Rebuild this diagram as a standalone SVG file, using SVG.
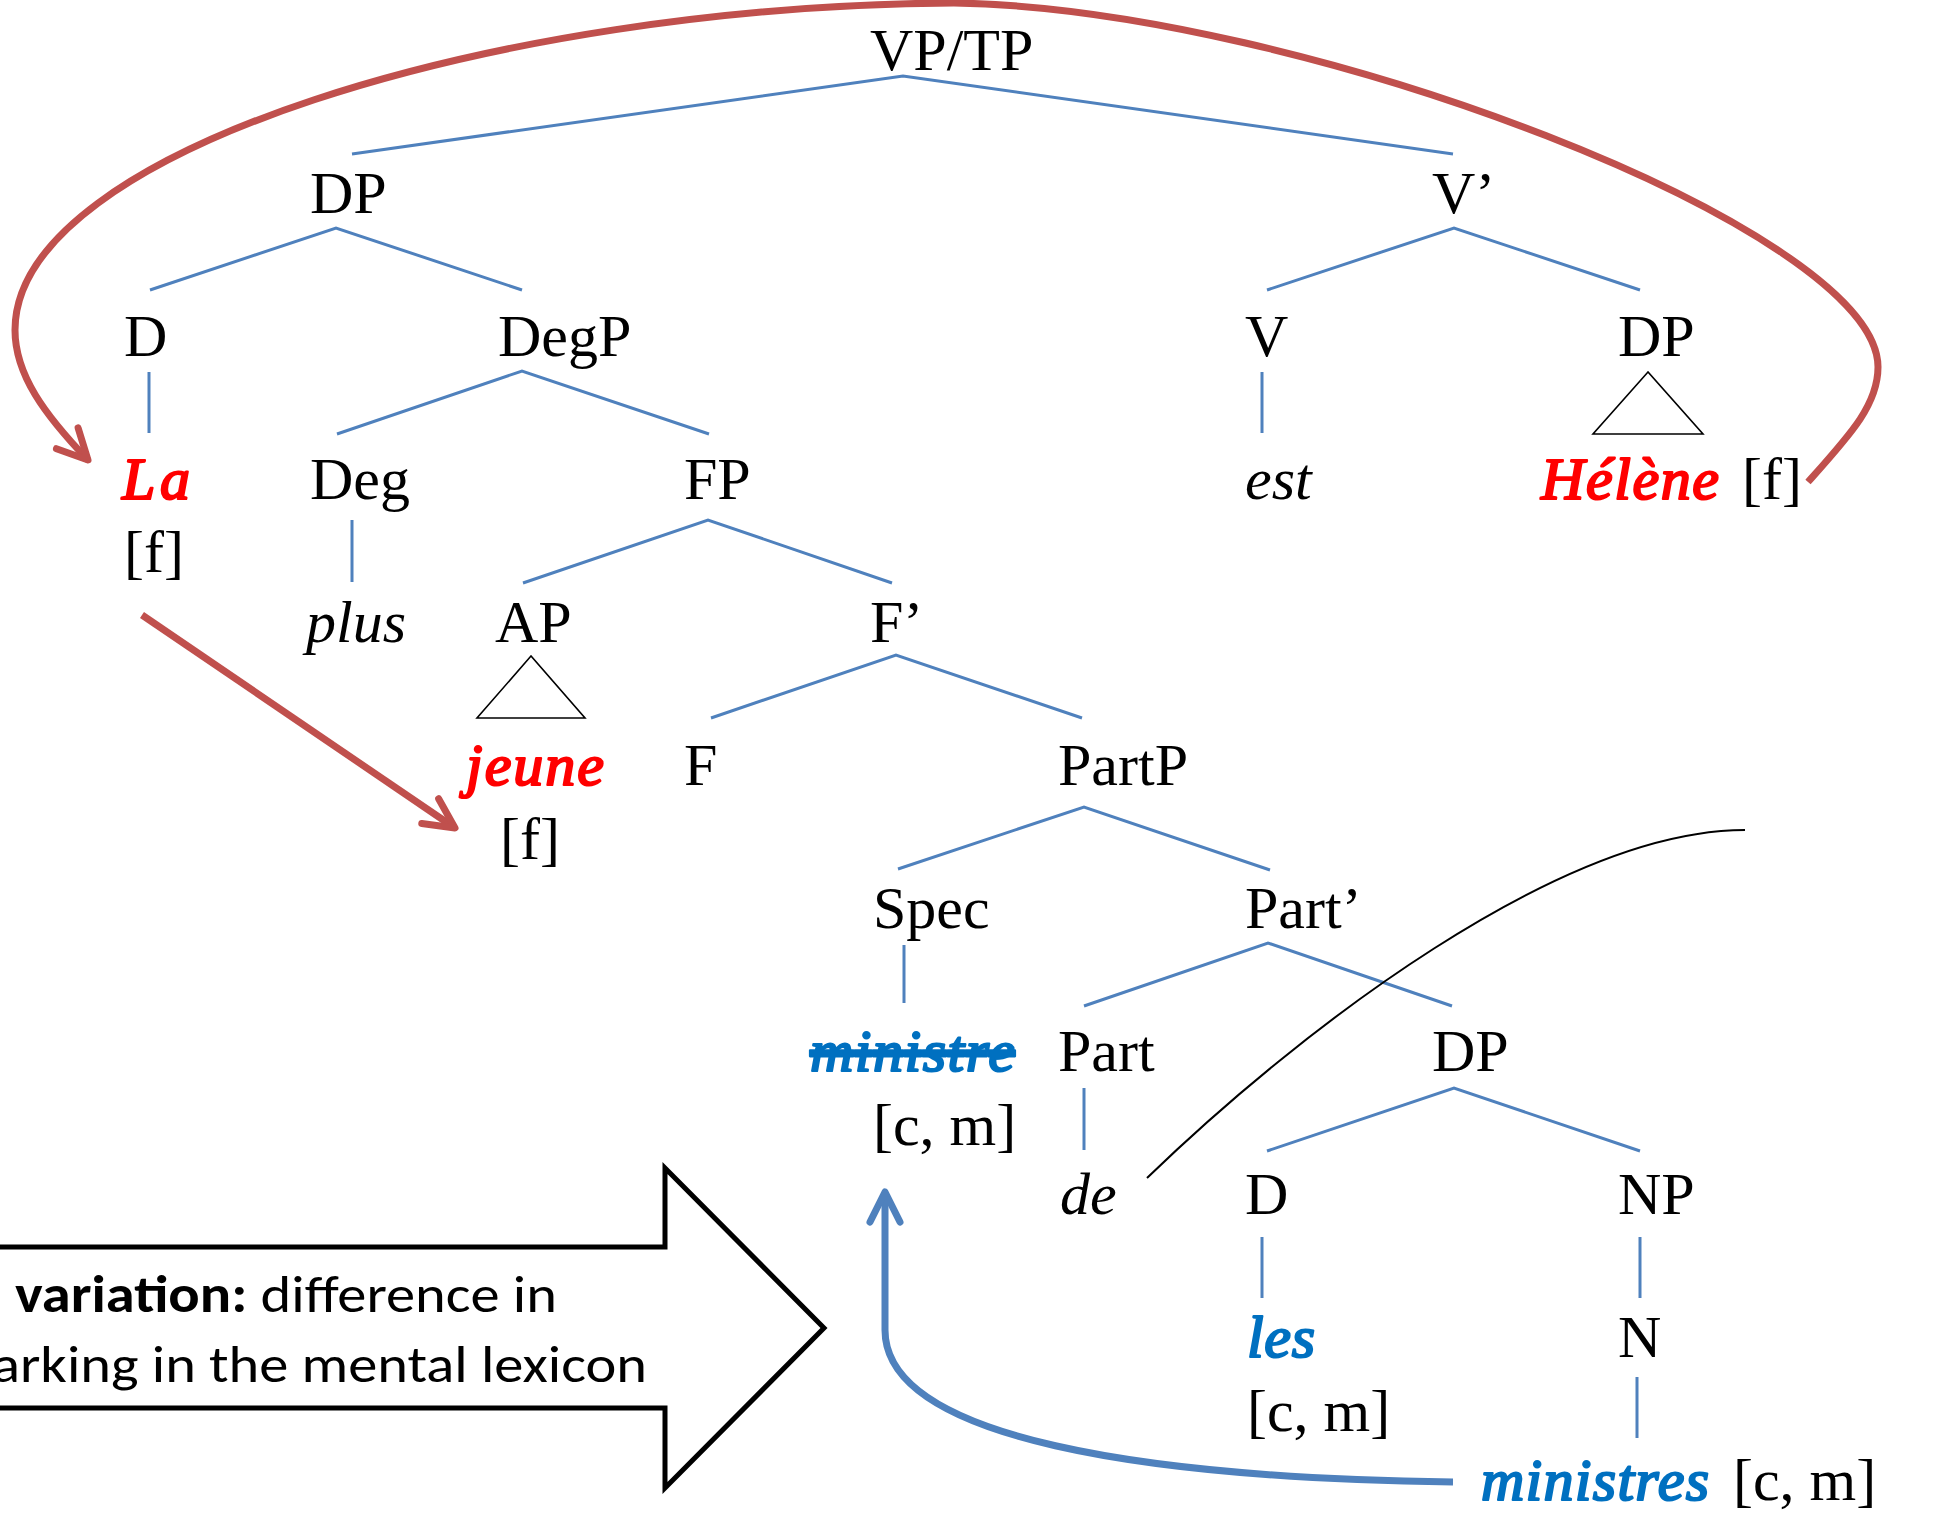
<svg xmlns="http://www.w3.org/2000/svg" width="1942" height="1521" viewBox="0 0 1942 1521">
<style>
.t{font-family:"Liberation Serif","Times New Roman",serif;font-size:60px;fill:#000}
.i{font-style:italic}
.bi{font-style:italic;stroke-width:2.2;stroke-linejoin:round}
.red{fill:#FF0000;stroke:#FF0000}
.blue{fill:#0070C0;stroke:#0070C0}
.br{stroke:#4F81BD;stroke-width:3;fill:none}
.tri{stroke:#000;stroke-width:1.6;fill:none}
.sans{font-family:Carlito,Lato,"Open Sans",sans-serif;font-size:52px;fill:#000}
</style>
<defs>
<marker id="arR" markerUnits="userSpaceOnUse" markerWidth="80" markerHeight="80" viewBox="-40 -40 80 80" refX="0" refY="0" orient="auto" overflow="visible">
<path d="M-30,-15 L0,0 L-30,15" fill="none" stroke="#C0504D" stroke-width="7" stroke-linecap="round" stroke-linejoin="round"/>
</marker>
<marker id="arB" markerUnits="userSpaceOnUse" markerWidth="80" markerHeight="80" viewBox="-40 -40 80 80" refX="0" refY="0" orient="auto" overflow="visible">
<path d="M-30,-15 L0,0 L-30,15" fill="none" stroke="#4F81BD" stroke-width="7" stroke-linecap="round" stroke-linejoin="round"/>
</marker>
</defs>

<g id="connectors">
<path class="br" d="M352,154 L903,76 L1453,154"/>
<path class="br" d="M150,290 L336,228 L522,290"/>
<path class="br" d="M1267,290 L1454,228 L1640,290"/>
<path class="br" d="M149,372 V433"/>
<path class="br" d="M337,434 L522,371 L709,434"/>
<path class="br" d="M1262,372 V433"/>
<path class="tri" d="M1648,372 L1593,434 L1703,434 Z"/>
<path class="br" d="M352,520 V582"/>
<path class="br" d="M523,583 L708,520 L892,583"/>
<path class="tri" d="M531,656 L477,718 L585,718 Z"/>
<path class="br" d="M711,718 L896,655 L1082,718"/>
<path class="br" d="M898,869 L1084,807 L1270,870"/>
<path class="br" d="M904,945 V1003"/>
<path class="br" d="M1084,1006 L1268,943 L1452,1006"/>
<path class="br" d="M1084,1088 V1150"/>
<path class="br" d="M1267,1151 L1454,1088 L1640,1151"/>
<path class="br" d="M1262,1237 V1298"/>
<path class="br" d="M1640,1237 V1298"/>
<path class="br" d="M1637,1377 V1438"/>
<path d="M1147,1178 C1300,1030 1560,830 1745,830" fill="none" stroke="#000" stroke-width="2"/>
<path d="M1808,482 C1850,435 1878,405 1878,367 C1878,230 1300,8 954,3 C500,5 15,150 15,330 C15,375 45,415 88,460" fill="none" stroke="#C0504D" stroke-width="7" marker-end="url(#arR)"/>
<path d="M142,615 L455,828" fill="none" stroke="#C0504D" stroke-width="7" marker-end="url(#arR)"/>
<path d="M1453,1482 C1150,1478 885,1440 885,1330 L885,1192" fill="none" stroke="#4F81BD" stroke-width="7" marker-end="url(#arB)"/>
</g>

<g id="lexicon-arrow">
<path d="M-10,1247 L665,1247 L665,1168 L824,1328 L665,1488 L665,1408 L-10,1408" fill="#fff" stroke="#000" stroke-width="5" stroke-linejoin="miter"/>
<text class="sans" x="15" y="1312" textLength="542" lengthAdjust="spacingAndGlyphs"><tspan font-weight="bold">variation:</tspan> difference in</text>
<text class="sans" x="-8" y="1382" textLength="655" lengthAdjust="spacingAndGlyphs">arking in the mental lexicon</text>
</g>

<g id="n-vptp"><text class="t" x="870" y="70">VP/TP</text></g>
<g id="n-dp1"><text class="t" x="310" y="213">DP</text></g>
<g id="n-vbar"><text class="t" x="1432" y="213">V’</text></g>
<g id="n-d1"><text class="t" x="124" y="356">D</text></g>
<g id="n-degp"><text class="t" x="498" y="356">DegP</text></g>
<g id="n-v"><text class="t" x="1245" y="356">V</text></g>
<g id="n-dp2"><text class="t" x="1618" y="356">DP</text></g>
<g id="n-la"><text class="t bi red" x="122" y="499" textLength="68">La</text><text class="t" x="124" y="572">[f]</text></g>
<g id="n-deg"><text class="t" x="310" y="499">Deg</text></g>
<g id="n-fp"><text class="t" x="684" y="499">FP</text></g>
<g id="n-est"><text class="t i" x="1245" y="499">est</text></g>
<g id="n-helene"><text class="t bi red" x="1541" y="499" textLength="178">Hélène</text><text class="t" x="1742" y="499">[f]</text></g>
<g id="n-plus"><text class="t i" x="306" y="642">plus</text></g>
<g id="n-ap"><text class="t" x="495" y="642">AP</text></g>
<g id="n-fbar"><text class="t" x="870" y="642">F’</text></g>
<g id="n-jeune"><text class="t bi red" x="466" y="785" textLength="138">jeune</text><text class="t" x="500" y="859">[f]</text></g>
<g id="n-f"><text class="t" x="684" y="785">F</text></g>
<g id="n-partp"><text class="t" x="1058" y="785">PartP</text></g>
<g id="n-spec"><text class="t" x="873" y="928">Spec</text></g>
<g id="n-partbar"><text class="t" x="1245" y="928">Part’</text></g>
<g id="n-ministre"><text class="t bi blue" x="810" y="1071" textLength="205" text-decoration="line-through">ministre</text><text class="t" x="873" y="1145">[c, m]</text></g>
<g id="n-part"><text class="t" x="1058" y="1071">Part</text></g>
<g id="n-dp3"><text class="t" x="1432" y="1071">DP</text></g>
<g id="n-de"><text class="t i" x="1060" y="1214">de</text></g>
<g id="n-d2"><text class="t" x="1245" y="1214">D</text></g>
<g id="n-np"><text class="t" x="1618" y="1214">NP</text></g>
<g id="n-les"><text class="t bi blue" x="1247" y="1357" textLength="68">les</text><text class="t" x="1247" y="1431">[c, m]</text></g>
<g id="n-n"><text class="t" x="1618" y="1357">N</text></g>
<g id="n-ministres"><text class="t bi blue" x="1481" y="1500" textLength="228">ministres</text><text class="t" x="1733" y="1500">[c, m]</text></g>
</svg>
